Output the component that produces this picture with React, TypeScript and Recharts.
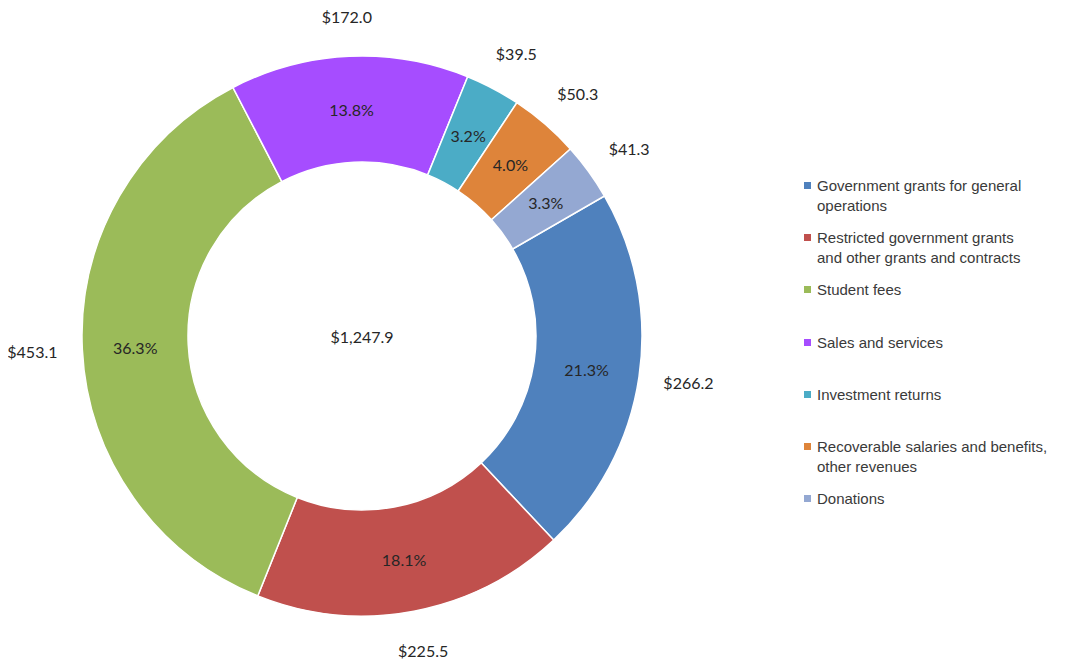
import { PieChart, Pie, Cell, Legend } from 'recharts';

const categories = [
  'Government grants for general operations',
  'Restricted government grants and other grants and contracts',
  'Student fees',
  'Sales and services',
  'Investment returns',
  'Recoverable salaries and benefits, other revenues',
  'Donations',
];

// legend text as it wraps in the original
const legendLines = [
  ['Government grants for general', 'operations'],
  ['Restricted government grants', 'and other grants and contracts'],
  ['Student fees'],
  ['Sales and services'],
  ['Investment returns'],
  ['Recoverable salaries and benefits,', 'other revenues'],
  ['Donations'],
];

const revenue = [266.2, 225.5, 453.1, 172.0, 39.5, 50.3, 41.3];

const colors = ['#4f81bd', '#c0504d', '#9bbb59', '#a64dff', '#4bacc6', '#de843a', '#94a8d2'];

const data = categories.map((name, i) => ({ name, value: revenue[i] }));
const total = revenue.reduce((a, b) => a + b, 0);
const totalText = '$' + total.toLocaleString('en-US', { minimumFractionDigits: 1, maximumFractionDigits: 1 });

const RADIAN = Math.PI / 180;
const labelFont = 'Lato, "Open Sans", sans-serif';

const renderLabels = (props) => {
  const { cx, cy, midAngle, innerRadius, outerRadius, value, index } = props;
  const cos = Math.cos(-midAngle * RADIAN);
  const sin = Math.sin(-midAngle * RADIAN);
  const rIn = (innerRadius + outerRadius) / 2;
  // outside labels sit a bit further out sideways than up/down (text is wider than tall)
  const rx = outerRadius + 50;
  const ry = outerRadius + 40;
  const pct = ((value / total) * 100).toFixed(1) + '%';
  const txt = { textAnchor: 'middle', dominantBaseline: 'central', fill: '#262626', fontSize: 16, fontFamily: labelFont };
  return (
    <g key={`lbl-${index}`}>
      <text x={cx + rIn * cos} y={cy + rIn * sin} {...txt}>
        {pct}
      </text>
      <text x={cx + rx * cos} y={cy + ry * sin} {...txt}>
        {'$' + value.toFixed(1)}
      </text>
      {/* total in the hole, drawn once */}
      {index === 0 && (
        <text x={cx} y={cy} {...txt}>
          {totalText}
        </text>
      )}
    </g>
  );
};

const renderLegend = () => (
  <div style={{ fontFamily: '"Liberation Sans", Arial, sans-serif', fontSize: 15, color: '#3a3a3a' }}>
    {legendLines.map((lines, i) => (
      <div key={i} style={{ height: 52.2, position: 'relative', paddingLeft: 13 }}>
        <span
          style={{
            position: 'absolute',
            left: 0,
            top: 6,
            width: 7,
            height: 7,
            background: colors[i],
          }}
        />
        {lines.map((l, j) => (
          <div key={j} style={{ lineHeight: '20px', whiteSpace: 'nowrap' }}>
            {l}
          </div>
        ))}
      </div>
    ))}
  </div>
);

export default function App() {
  return (
    <div style={{ width: 1081, height: 668, position: 'relative', margin: -8 }}>
      <PieChart width={1081} height={668} margin={{ top: 0, right: 0, bottom: 0, left: 0 }}>
        <Pie
          data={data}
          dataKey="value"
          nameKey="name"
          cx={362}
          cy={336}
          innerRadius={174}
          outerRadius={280}
          startAngle={30}
          endAngle={-330}
          stroke="#ffffff"
          strokeWidth={1.5}
          labelLine={false}
          label={renderLabels}
          isAnimationActive={false}
        >
          {data.map((d, i) => (
            <Cell key={d.name} fill={colors[i]} />
          ))}
        </Pie>
        <Legend
          layout="vertical"
          align="right"
          verticalAlign="top"
          content={renderLegend}
          wrapperStyle={{ position: 'absolute', left: 804, top: 176, width: 270 }}
        />
      </PieChart>
    </div>
  );
}
